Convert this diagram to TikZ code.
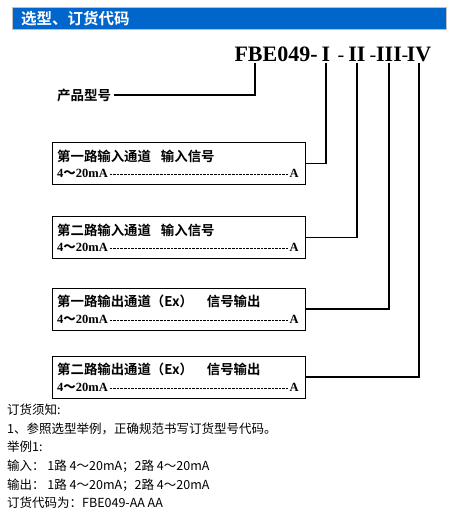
\documentclass[tikz,border=0pt]{standalone}
\usepackage{fontspec}
\setmainfont{Liberation Serif}
\newfontfamily\cjk{Noto Sans CJK SC}
\newfontfamily\cjkbold{Noto Sans CJK SC Bold}
\usetikzlibrary{positioning}
\definecolor{barblue}{HTML}{0066CC}

\begin{document}
\begin{tikzpicture}[
    x=1pt, y=-1pt,
    titlebar/.style={
        rectangle,
        draw=black!25,
        fill=barblue,
        line width=0.8pt,
        minimum width=434pt,
        minimum height=22pt,
        inner sep=0pt
    },
    titletxt/.style={
        font=\cjkbold\fontsize{15.5}{16}\selectfont,
        text=white,
        inner sep=0pt
    },
    codepart/.style={
        font=\fontsize{22}{22}\selectfont\bfseries,
        inner sep=0pt,
        outer sep=1.5pt,
        anchor=base
    },
    dashpart/.style={
        font=\fontsize{20}{20}\selectfont,
        inner sep=0pt,
        anchor=base
    },
    modeltxt/.style={
        font=\cjkbold\fontsize{13.5}{14}\selectfont,
        inner sep=3pt
    },
    chbox/.style={
        rectangle,
        draw=black,
        line width=0.9pt,
        minimum width=253pt,
        minimum height=42pt,
        inner sep=0pt
    },
    headtxt/.style={
        font=\cjkbold\fontsize{13.4}{14}\selectfont,
        inner sep=0pt
    },
    rangetxt/.style={
        font=\bfseries\fontsize{12.5}{13}\selectfont,
        inner sep=0pt
    },
    leader/.style={
        draw=black,
        line width=0.9pt,
        dash pattern=on 2.6pt off 1pt,
        shorten <=1.5pt,
        shorten >=1.5pt
    },
    wire/.style={
        draw=black,
        line width=1.6pt
    },
    notetxt/.style={
        font=\cjk\fontsize{12.5}{18.6}\selectfont,
        align=left,
        inner sep=0pt
    }
]

\path[use as bounding box, fill=white] (0,0) rectangle (450,528);

\node[titlebar, anchor=north west] (bar) at (12,7) {};
\node[titletxt, anchor=west] (title) at ([xshift=9pt]bar.west) {选型、订货代码};

\node[codepart, anchor=base west] (code) at (233,61) {FBE049-};
\node[codepart] (r1) at (326,61) {I};
\node[dashpart] (d1) at (341,61) {-};
\node[codepart] (r2) at (357,61) {II};
\node[dashpart] (d2) at (373,61) {-};
\node[codepart] (r3) at (389,61) {III};
\node[dashpart] (d3) at (405,61) {-};
\node[codepart] (r4) at (419,61) {IV};

\node[modeltxt, anchor=west] (model) at (54,95) {产品型号};

\node[chbox, anchor=north west] (ch1) at (52,142) {};
\node[chbox, below=31pt of ch1] (ch2) {};
\node[chbox, below=29pt of ch2] (ch3) {};
\node[chbox, below=25pt of ch3] (ch4) {};

\node[headtxt, anchor=west] (h1) at ([xshift=5pt,yshift=-14pt]ch1.north west) {第一路输入通道\hspace{10pt}输入信号};
\node[headtxt, anchor=west] (h2) at ([xshift=5pt,yshift=-14pt]ch2.north west) {第二路输入通道\hspace{10pt}输入信号};
\node[headtxt, anchor=west] (h3) at ([xshift=5pt,yshift=-14pt]ch3.north west) {第一路输出通道（Ex）\hspace{14pt}信号输出};
\node[headtxt, anchor=west] (h4) at ([xshift=5pt,yshift=-14pt]ch4.north west) {第二路输出通道（Ex）\hspace{14pt}信号输出};

\foreach \b in {1,...,4} {
    \node[rangetxt, anchor=base west] (lo\b) at ([xshift=5pt,yshift=7pt]ch\b.south west) {4{\cjkbold ～}20mA};
    \node[rangetxt, anchor=base east] (a\b) at ([xshift=-7pt,yshift=7pt]ch\b.south east) {A};
    \draw[leader] ([yshift=3pt]lo\b.base east) -- ([yshift=3pt]a\b.base west);
}

\draw[wire] (model.east) -| ([xshift=22pt]code.south west);
\draw[wire] (r1.south) |- (ch1.east);
\draw[wire] (r2.south) |- (ch2.east);
\draw[wire] (r3.south) |- (ch3.east);
\draw[wire] (r4.south) |- (ch4.east);

\node[notetxt, anchor=north west] (notes) at (7,404) {订货须知:\\
1、参照选型举例，正确规范书写订货型号代码。\\
举例1:\\
输入：\ 1路 4～20mA；2路 4～20mA\\
输出：\ 1路 4～20mA；2路 4～20mA\\
订货代码为：FBE049-AA AA};

\end{tikzpicture}
\end{document}
